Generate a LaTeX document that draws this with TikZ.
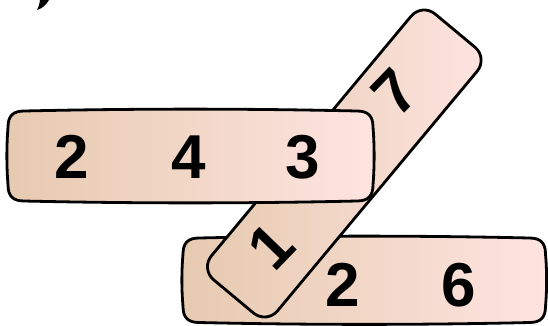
\documentclass[tikz,border=0pt]{standalone}
\usepackage{fontspec}
\setmainfont{Liberation Sans}
\definecolor{tanc}{RGB}{230,202,176}
\definecolor{pinkc}{RGB}{254,228,224}
% pillow-shaped band: #1 options, #2 x0, #3 y0, #4 x1, #5 y1 (y grows downwards)
\newcommand\pillowband[5]{%
  \draw[#1]
  ({#2+16},#3) .. controls ({#2+16+(#4-#2-32)/3},{#3-2.5}) and ({#4-16-(#4-#2-32)/3},{#3-2.5}) .. ({#4-16},#3)
  .. controls ({#4-5},#3) and (#4,{#3+5}) .. (#4,{#3+16})
  .. controls ({#4+1.5},{#3+16+(#5-#3-32)/3}) and ({#4+1.5},{#5-16-(#5-#3-32)/3}) .. (#4,{#5-16})
  .. controls (#4,{#5-5}) and ({#4-5},#5) .. ({#4-16},#5)
  .. controls ({#4-16-(#4-#2-32)/3},{#5+2.5}) and ({#2+16+(#4-#2-32)/3},{#5+2.5}) .. ({#2+16},#5)
  .. controls ({#2+5},#5) and (#2,{#5-5}) .. (#2,{#5-16})
  .. controls ({#2-1.5},{#5-16-(#5-#3-32)/3}) and ({#2-1.5},{#3+16+(#5-#3-32)/3}) .. (#2,{#3+16})
  .. controls (#2,{#3+5}) and ({#2+5},#3) .. ({#2+16},#3) -- cycle;}
\begin{document}
\begin{tikzpicture}[x=1pt,y=-1pt,
  band/.style={line width=2.8pt, line join=round, left color=tanc, right color=pinkc},
  digit/.style={inner sep=0pt, font=\fontsize{62}{62}\selectfont\bfseries}]
\useasboundingbox (0,0) rectangle (548,325);
\fill[white] (0,0) rectangle (548,325);
% bottom band
\pillowband{band}{183}{238}{545.5}{322.5}
% diagonal band
\begin{scope}[shift={(344.3,163.5)}, rotate=50.2]
  \draw[band, rounded corners=17pt] (-173,-43) rectangle (173,43);
\end{scope}
% top band
\pillowband{band}{8}{111}{373}{201}
% digits
\node[digit] (t2) at (72,157) {2};
\node[digit] (t4) at (189,157) {4};
\node[digit] (t3) at (303,157) {3};
\node[digit] (b2) at (343,285) {2};
\node[digit] (b6) at (459,285) {6};
\node[digit, rotate=46] (d7) at (395,92) {7};
\node[digit, rotate=46] (d1) at (271,246) {1};
% fragment at the top left
\fill (40,0) -- (49,0) .. controls (46,5) and (43,8) .. (37,10) .. controls (39,6) .. (40,0) -- cycle;
\end{tikzpicture}
\end{document}
